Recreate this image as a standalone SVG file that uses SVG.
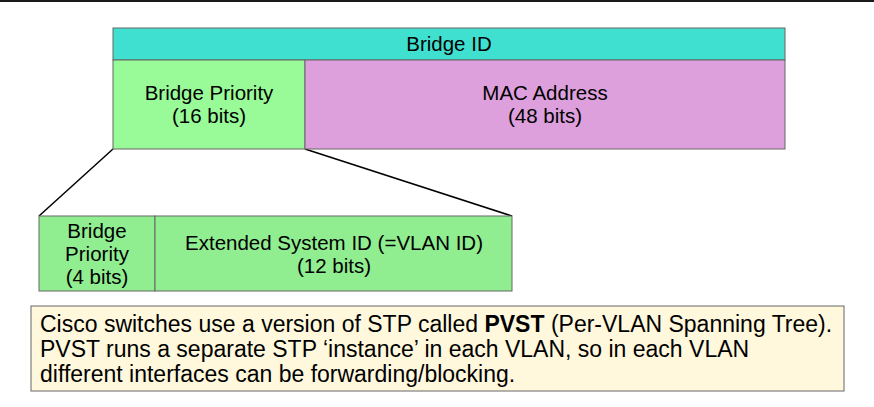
<svg xmlns="http://www.w3.org/2000/svg" width="874" height="407" viewBox="0 0 874 407">
<style>
.t{font-family:"Liberation Sans",Arial,sans-serif;font-size:20.5px;fill:#000;text-anchor:middle}
.n{font-family:"Liberation Sans",Arial,sans-serif;font-size:23px;fill:#000}
.box{stroke:#666;stroke-width:1}
.con{stroke:#000;stroke-width:1.5;fill:none}
</style>
<rect width="874" height="407" fill="#fff"/>
<line x1="0" y1="1" x2="874" y2="1" stroke="#1a1a1a" stroke-width="2"/>
<g id="connectors">
<line class="con" x1="113" y1="149" x2="39" y2="216"/>
<line class="con" x1="305" y1="149" x2="512" y2="216"/>
</g>
<g id="bridge-id">
<rect class="box" x="113" y="28" width="672" height="32" fill="#40e0d0"/>
<text class="t" x="449" y="51">Bridge ID</text>
</g>
<g id="bridge-priority-16">
<rect class="box" x="113" y="60" width="192" height="89" fill="#98fb98"/>
<text class="t" x="209" y="100">Bridge Priority</text>
<text class="t" x="209" y="123">(16 bits)</text>
</g>
<g id="mac-address">
<rect class="box" x="305" y="60" width="480" height="89" fill="#dda0dd"/>
<text class="t" x="545" y="100">MAC Address</text>
<text class="t" x="545" y="123">(48 bits)</text>
</g>
<g id="bridge-priority-4">
<rect class="box" x="39" y="216" width="116" height="75" fill="#90ee90"/>
<text class="t" x="97" y="238">Bridge</text>
<text class="t" x="97" y="261">Priority</text>
<text class="t" x="97" y="284">(4 bits)</text>
</g>
<g id="extended-system-id">
<rect class="box" x="155" y="216" width="357" height="75" fill="#90ee90"/>
<text class="t" x="334" y="250">Extended System ID (=VLAN ID)</text>
<text class="t" x="334" y="273">(12 bits)</text>
</g>
<g id="note">
<rect class="box" x="31" y="306" width="813" height="85" fill="#fff8dc"/>
<text class="n" x="40" y="332">Cisco switches use a version of STP called <tspan font-weight="bold">PVST</tspan> (Per-VLAN Spanning Tree).</text>
<text class="n" x="40" y="357">PVST runs a separate STP ‘instance’ in each VLAN, so in each VLAN</text>
<text class="n" x="40" y="382">different interfaces can be forwarding/blocking.</text>
</g>
</svg>
